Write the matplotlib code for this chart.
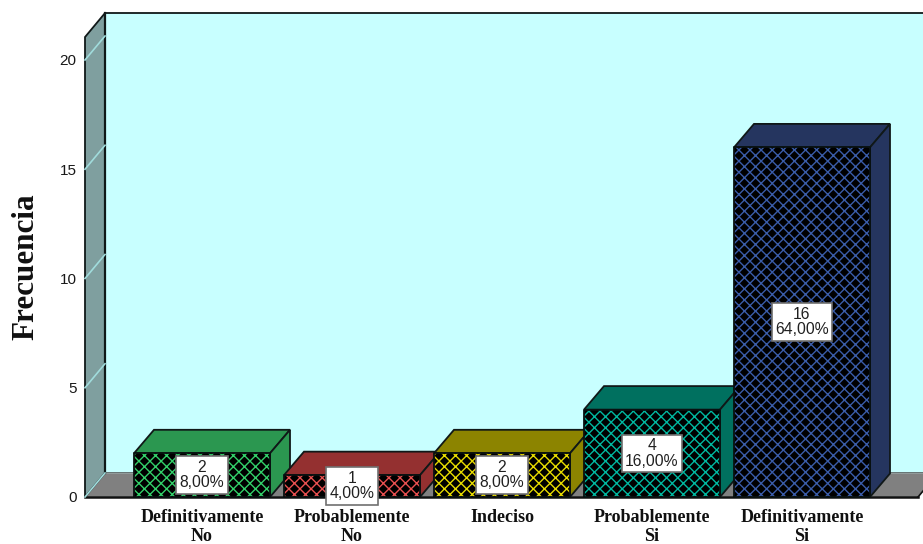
import matplotlib
matplotlib.use('Agg')
import matplotlib.pyplot as plt
from matplotlib.patches import Polygon

categories = ['Definitivamente\nNo', 'Probablemente\nNo', 'Indeciso', 'Probablemente\nSi', 'Definitivamente\nSi']
counts = [2, 1, 2, 4, 16]
percents = ['8,00%', '4,00%', '8,00%', '16,00%', '64,00%']
side_colors = ['#2b9750', '#943030', '#8c8400', '#00705f', '#25355f']
hatch_colors = ['#33d06a', '#e85050', '#e8dc00', '#00b8a0', '#3a5ca8']
y_ticks = [0, 5, 10, 15, 20]

W, H = 923, 544
plt.rcParams['hatch.linewidth'] = 1.0

fig = plt.figure(figsize=(W / 100, H / 100), dpi=100)
# front plane of the 3d box, in pixels
left, right, bottom, top = 85, 918, 497, 60
ax = fig.add_axes([left / W, 1 - bottom / H, (right - left) / W, (bottom - top) / H])
ax.set_xlim((left - 202) / 150, (right - 202) / 150)
ax.set_ylim(0, 20)
ax.patch.set_visible(False)
for s in ax.spines.values():
    s.set_visible(False)

# depth of the box and of the bars
dx = 20 / 150
dy = 24 / 21.85
x0, x1 = ax.get_xlim()
ytop = 21.05
edge = '#101818'


def poly(pts, fc, z, ec=edge, lw=1.3):
    p = Polygon(pts, closed=True, facecolor=fc, edgecolor=ec, linewidth=lw, clip_on=False, zorder=z)
    ax.add_patch(p)
    return p


# walls and floor
poly([(x0 + dx, dy), (x1 + dx, dy), (x1 + dx, ytop + dy), (x0 + dx, ytop + dy)], '#c8ffff', 1)
poly([(x0, 0), (x0 + dx, dy), (x1 + dx, dy), (x1, 0)], '#808080', 2, ec='#a0b0b0', lw=0.8)
poly([(x0, 0), (x0 + dx, dy), (x0 + dx, ytop + dy), (x0, ytop)], '#7f9f9f', 2)
ax.plot([x0 + dx, x0 + dx], [dy, ytop + dy], color='#101818', lw=1.6, clip_on=False, zorder=3)
ax.plot([x0, x1], [0, 0], color='#101010', lw=1.8, clip_on=False, zorder=3)
ax.plot([x1, x1 + dx], [0, dy], color='#101010', lw=1.2, clip_on=False, zorder=3)

# tick lines on the side wall
for t in y_ticks:
    ax.plot([x0, x0 + dx], [t, t + dy], color='#a0dcdc', lw=1.2, clip_on=False, zorder=3)

ax.set_yticks(y_ticks)
ax.set_yticklabels([str(t) for t in y_ticks], family='Liberation Sans', fontsize=11, color='#181818')
ax.tick_params(axis='y', length=0, pad=6)
ax.set_xticks(range(len(categories)))
ax.set_xticklabels(categories, family='Liberation Serif', weight='bold', fontsize=13, color='#101010', linespacing=1.12)
ax.tick_params(axis='x', length=0, pad=9)
ax.set_ylabel('Frecuencia', family='Liberation Serif', weight='bold', fontsize=22.4, color='#101010')
ax.yaxis.set_label_coords((40 - left) / (right - left), 0.526)

w = 136 / 150
bar_dy = 23.5 / 21.85
for i, v in enumerate(counts):
    a, b = i - w / 2, i + w / 2
    z = 5 + i
    poly([(a, v), (a + dx, v + bar_dy), (b + dx, v + bar_dy), (b, v)], side_colors[i], z)
    poly([(b, 0), (b + dx, bar_dy), (b + dx, v + bar_dy), (b, v)], side_colors[i], z)
    ax.bar(i, v, width=w, color='black', edgecolor=hatch_colors[i], hatch='xxx', linewidth=0, zorder=z + 0.1, clip_on=False)
    ax.plot([a, b, b, a, a], [0, 0, v, v, 0], color='#081010', lw=1.3, clip_on=False, zorder=z + 0.2)

for i, v in enumerate(counts):
    ax.text(i, v / 2, '%d\n%s' % (v, percents[i]), ha='center', va='center', family='Liberation Sans',
            fontsize=11.3, color='#202020', linespacing=1.05, zorder=20, clip_on=False,
            bbox=dict(boxstyle='square,pad=0.22', facecolor='white', edgecolor='#707070', linewidth=1.2))

fig.savefig('out.png', dpi=100)
